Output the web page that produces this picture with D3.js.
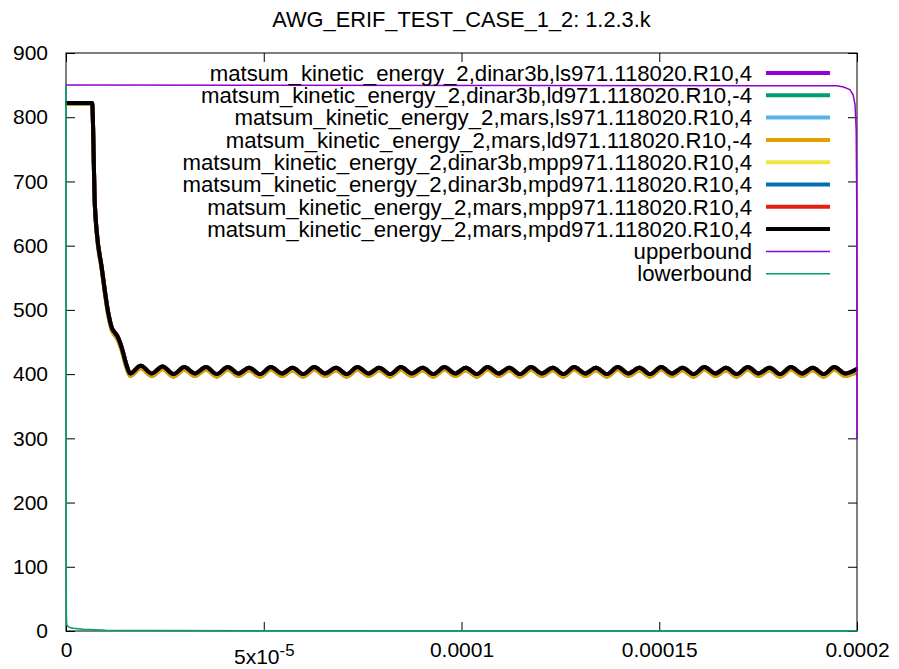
<!DOCTYPE html>
<html>
    <head>
        <title>AWG_ERIF_TEST_CASE_1_2</title>
        <meta charset="UTF-8">
        <script src="https://d3js.org/d3.v7.min.js"></script>
        <style>
            body { margin: 0; background: #fff; }
            svg { font-family: "Liberation Sans", Arial, sans-serif; }
            .line { fill: none; stroke-linejoin: round; stroke-linecap: round; }
            .tick line { stroke: #000; }
        </style>
    </head>
    <body>
        <svg width="899" height="669"></svg>
        <script>
            // time in units of 1e-6 s
            var keTime = [0, 6.6, 7.3, 7.8, 9.0, 10.7, 11.6, 12.3, 12.9, 14.1, 15.3, 16.2,
                18.9, 21.7, 24.4, 27.2, 29.9, 32.6, 35.4, 38.1, 40.9, 43.6,
                46.3, 49.1, 51.8, 54.6, 57.3, 60.0, 62.8, 65.5, 68.3, 71.0,
                73.7, 76.5, 79.2, 82.0, 84.7, 87.4, 90.2, 92.9, 95.7, 98.4,
                101.1, 103.9, 106.6, 109.4, 112.1, 114.8, 117.6, 120.3, 123.1, 125.8,
                128.5, 131.3, 134.0, 136.8, 139.5, 142.2, 145.0, 147.7, 150.5, 153.2,
                155.9, 158.7, 161.4, 164.2, 166.9, 169.6, 172.4, 175.1, 177.9, 180.6,
                183.3, 186.1, 188.8, 191.6, 194.3, 197.0, 200];

            // ls / mpp / mpd runs
            var keMain = [822, 822, 663, 620, 567, 495, 472, 465, 460, 441, 414, 401,
                413, 401, 412, 400, 411, 401, 411, 400, 411, 401,
                410, 400, 411, 401, 410, 400, 411, 401, 410, 400,
                411, 401, 410, 400, 411, 401, 410, 400, 411, 401,
                410, 400, 411, 401, 410, 400, 411, 401, 410, 400,
                411, 401, 410, 400, 411, 401, 410, 400, 411, 401,
                410, 400, 411, 401, 410, 400, 411, 401, 410, 400,
                411, 401, 410, 400, 411, 401, 408];

            // ld runs (slightly lower)
            var keLd = [821, 821, 661, 617, 564, 491, 468, 461, 456, 437, 410, 397,
                409, 397, 408, 396, 407, 397, 407, 396, 407, 397,
                406, 396, 407, 397, 406, 396, 407, 397, 406, 396,
                407, 397, 406, 396, 407, 397, 406, 396, 407, 397,
                406, 396, 407, 397, 406, 396, 407, 397, 406, 396,
                407, 397, 406, 396, 407, 397, 406, 396, 407, 397,
                406, 396, 407, 397, 406, 396, 407, 397, 406, 396,
                407, 397, 406, 396, 407, 397, 404];

            var upperTime = [0, 194.9, 196.6, 198.2, 199.0, 199.5, 199.8, 199.95, 200];
            var upperValue = [850, 849, 847, 843, 835, 820, 780, 650, 300];

            var lowerTime = [0, 0.02, 0.05, 0.1, 0.18, 0.4, 0.9, 1.85, 4.3, 10, 25, 60, 120, 200];
            var lowerValue = [850, 300, 80, 25, 10, 7.5, 5.5, 4.2, 2.6, 1.3, 0.6, 0.3, 0.15, 0.1];

            var seriesNames = [
                'matsum_kinetic_energy_2,dinar3b,ls971.118020.R10,4',
                'matsum_kinetic_energy_2,dinar3b,ld971.118020.R10,-4',
                'matsum_kinetic_energy_2,mars,ls971.118020.R10,4',
                'matsum_kinetic_energy_2,mars,ld971.118020.R10,-4',
                'matsum_kinetic_energy_2,dinar3b,mpp971.118020.R10,4',
                'matsum_kinetic_energy_2,dinar3b,mpd971.118020.R10,4',
                'matsum_kinetic_energy_2,mars,mpp971.118020.R10,4',
                'matsum_kinetic_energy_2,mars,mpd971.118020.R10,4',
                'upperbound',
                'lowerbound'
            ];
            var seriesColors = ['#9400d3', '#009e73', '#56b4e9', '#e69f00', '#f0e442',
                                '#0072b2', '#e51e10', '#000000', '#9400d3', '#009e73'];

            var xTicks = [0, 50, 100, 150, 200];
            var xTickLabels = ['0', '5x10|-5', '0.0001', '0.00015', '0.0002'];
            var yTicks = [0, 100, 200, 300, 400, 500, 600, 700, 800, 900];

            function zip(ts, vs) {
                return ts.map(function(t, i) { return { t: t, v: vs[i] }; });
            }

            var seriesData = [
                zip(keTime, keMain), zip(keTime, keLd), zip(keTime, keMain), zip(keTime, keLd),
                zip(keTime, keMain), zip(keTime, keMain), zip(keTime, keMain), zip(keTime, keMain),
                zip(upperTime, upperValue), zip(lowerTime, lowerValue)
            ];

            var svg = d3.select('svg'),
                margin = { top: 53, right: 42, bottom: 38, left: 66 },
                width = svg.attr('width') - margin.left - margin.right,
                height = svg.attr('height') - margin.top - margin.bottom,
                g = svg.append('g').attr('transform', 'translate(' + margin.left + ',' + margin.top + ')');

            svg.insert('rect', ':first-child').attr('width', 899).attr('height', 669).attr('fill', '#fff');

            var x = d3.scaleLinear().domain([0, 200]).range([0, width]),
                y = d3.scaleLinear().domain([0, 900]).range([height, 0]);

            var fontSize = 21,
                textSize = 22.2;

            // axes with inward ticks
            var gx = g.append('g')
                .attr('transform', 'translate(0,' + height + ')')
                .call(d3.axisBottom(x).tickValues(xTicks).tickSizeInner(-9).tickSizeOuter(0).tickPadding(11)
                    .tickFormat(function(d, i) { return xTickLabels[i]; }));
            g.append('g')
                .call(d3.axisTop(x).tickValues(xTicks).tickSizeInner(-9).tickSizeOuter(0).tickFormat(''));
            var gy = g.append('g')
                .call(d3.axisLeft(y).tickValues(yTicks).tickSizeInner(-9).tickSizeOuter(0).tickPadding(18));
            g.append('g')
                .attr('transform', 'translate(' + width + ',0)')
                .call(d3.axisRight(y).tickValues(yTicks).tickSizeInner(-9).tickSizeOuter(0).tickFormat(''));

            g.selectAll('.domain').remove();
            g.selectAll('.tick text')
                .attr('fill', '#000')
                .style('font-size', fontSize + 'px')
                .style('font-family', '"Liberation Sans", Arial, sans-serif');

            // superscript label
            gx.selectAll('.tick text').each(function(d, i) {
                var lab = xTickLabels[i];
                if (lab.indexOf('|') < 0) return;
                var parts = lab.split('|');
                var t = d3.select(this).text('').attr('dy', '1.05em');
                t.append('tspan').text(parts[0]);
                t.append('tspan').attr('dy', '-0.45em').style('font-size', '0.8em').text(parts[1]);
            });

            // border
            g.append('rect')
                .attr('width', width)
                .attr('height', height)
                .attr('fill', 'none')
                .attr('stroke', '#000')
                .attr('stroke-width', 1);

            g.append('clipPath').attr('id', 'clip')
              .append('rect').attr('x', -1).attr('y', -1).attr('width', width + 2).attr('height', height + 2);

            var curveLine = d3.line()
                .curve(d3.curveMonotoneX)
                .x(function(d) { return x(d.t); })
                .y(function(d) { return y(d.v); });
            var straightLine = d3.line()
                .x(function(d) { return x(d.t); })
                .y(function(d) { return y(d.v); });

            var plot = g.append('g').attr('clip-path', 'url(#clip)');
            seriesData.forEach(function(d, i) {
                plot.append('path')
                    .attr('class', 'line')
                    .attr('d', i < 8 ? curveLine(d) : straightLine(d))
                    .style('stroke', seriesColors[i])
                    .style('stroke-width', i < 8 ? 4 : 1.5);
            });

            // title
            svg.append('text')
                .attr('x', margin.left + width / 2)
                .attr('y', 27)
                .style('text-anchor', 'middle')
                .style('font-size', '21.8px')
                .text('AWG_ERIF_TEST_CASE_1_2: 1.2.3.k');

            // legend
            var legend = svg.append('g');
            seriesNames.forEach(function(name, i) {
                var ly = 73 + i * 22.3;
                legend.append('text')
                    .attr('x', 752)
                    .attr('y', ly)
                    .attr('dy', '0.35em')
                    .style('text-anchor', 'end')
                    .style('font-size', textSize + 'px')
                    .text(name);
                legend.append('line')
                    .attr('x1', 766).attr('x2', 830)
                    .attr('y1', ly).attr('y2', ly)
                    .style('stroke', seriesColors[i])
                    .style('stroke-width', i < 8 ? 4 : 1.5);
            });
        </script>
    </body>
</html>
